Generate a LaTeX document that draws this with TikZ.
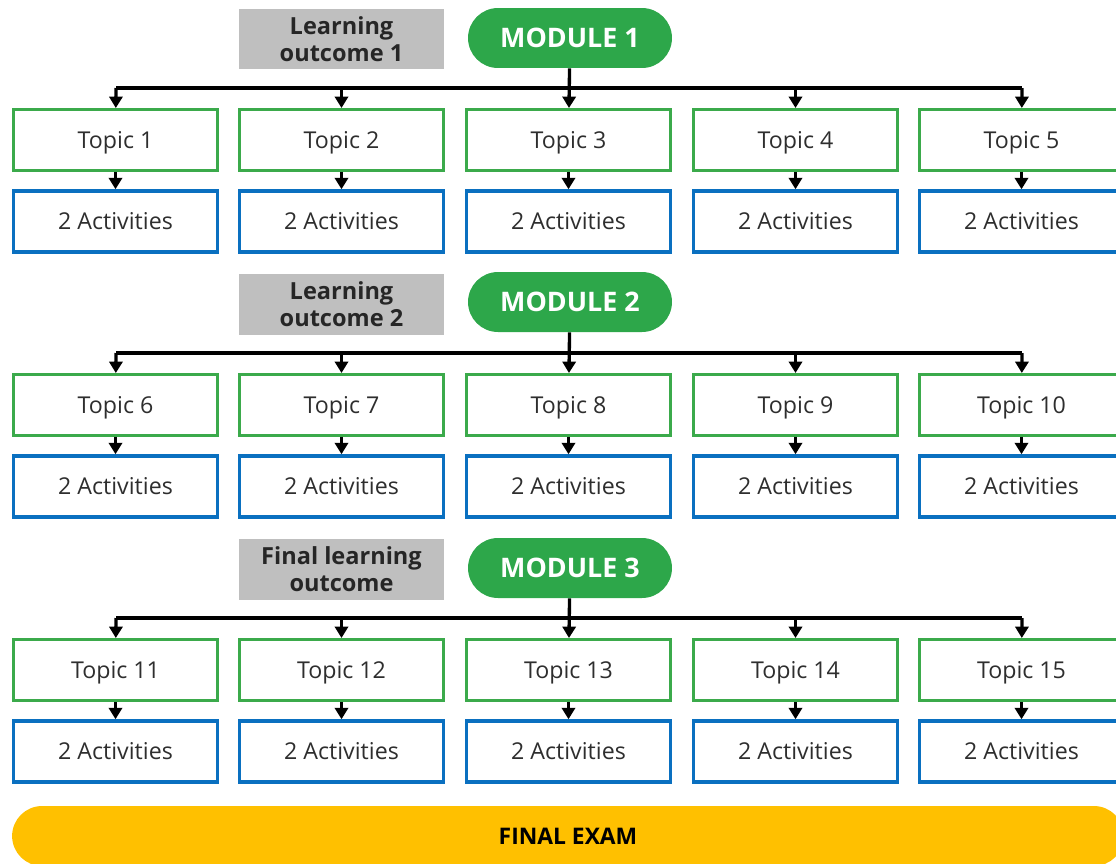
\documentclass[tikz,border=0pt]{standalone}
\usepackage{fontspec}
\setmainfont{Open Sans}
\usetikzlibrary{arrows.meta}

\definecolor{topicgreen}{HTML}{3BAA4B}
\definecolor{modgreen}{HTML}{2DA74A}
\definecolor{actblue}{HTML}{0A70C0}
\definecolor{outgray}{HTML}{BFBFBF}
\definecolor{examyellow}{HTML}{FFC000}

\tikzset{
  box/.style={line width=1.7pt, fill=white, text=black!82,
    minimum width=4.08cm, minimum height=1.22cm, font=\fontsize{13.2}{15}\selectfont},
  topic/.style={box, draw=topicgreen, text depth=0pt},
  activity/.style={box, draw=actblue, line width=2pt},
  module/.style={fill=modgreen, rounded corners=0.6cm, text=white,
    minimum width=4.08cm, minimum height=1.2cm, font=\bfseries\fontsize{15.3}{18}\selectfont},
  outcome/.style={fill=outgray, minimum width=4.1cm, minimum height=1.22cm,
    align=center, font=\bfseries\fontsize{13.4}{15.3}\selectfont, text=black!85},
  exam/.style={fill=examyellow, rounded corners=0.6cm,
    minimum width=22.24cm, minimum height=1.2cm, font=\bfseries\fontsize{13}{15}\selectfont},
  link/.style={line width=1.9pt, -{Triangle[length=6.5pt,width=7.5pt]}},
  bus/.style={line width=1.9pt}
}

\begin{document}
\begin{tikzpicture}[x=0.02cm, y=-0.02cm]
\clip (0,0) rectangle (1116,863);
\useasboundingbox (0,0) rectangle (1116,863);

% module 1
\node[outcome] (o1) at (341.5, 39) {Learning\\outcome 1};
\node[module] (m1) at (570, 38) {MODULE 1};
\node[topic] (t1) at (115.5, 140) {Topic 1};
\node[topic] (t2) at (341.5, 140) {Topic 2};
\node[topic] (t3) at (568.5, 140) {Topic 3};
\node[topic] (t4) at (795.5, 140) {Topic 4};
\node[topic] (t5) at (1021.5, 140) {Topic 5};
\node[activity] (a1) at (115.5, 221.5) {2 Activities};
\node[activity] (a2) at (341.5, 221.5) {2 Activities};
\node[activity] (a3) at (568.5, 221.5) {2 Activities};
\node[activity] (a4) at (795.5, 221.5) {2 Activities};
\node[activity] (a5) at (1021.5, 221.5) {2 Activities};
\coordinate (b1) at (116, 88);
\coordinate (c1) at (1022, 88);

% module 2
\node[outcome] (o2) at (341.5, 304) {Learning\\outcome 2};
\node[module] (m2) at (570, 302) {MODULE 2};
\node[topic] (t6) at (115.5, 405) {Topic 6};
\node[topic] (t7) at (341.5, 405) {Topic 7};
\node[topic] (t8) at (568.5, 405) {Topic 8};
\node[topic] (t9) at (795.5, 405) {Topic 9};
\node[topic] (t10) at (1021.5, 405) {Topic 10};
\node[activity] (a6) at (115.5, 486.5) {2 Activities};
\node[activity] (a7) at (341.5, 486.5) {2 Activities};
\node[activity] (a8) at (568.5, 486.5) {2 Activities};
\node[activity] (a9) at (795.5, 486.5) {2 Activities};
\node[activity] (a10) at (1021.5, 486.5) {2 Activities};
\coordinate (b2) at (116, 353);
\coordinate (c2) at (1022, 353);

% module 3
\node[outcome] (o3) at (341.5, 569) {Final learning\\outcome};
\node[module] (m3) at (570, 568) {MODULE 3};
\node[topic] (t11) at (115.5, 670) {Topic 11};
\node[topic] (t12) at (341.5, 670) {Topic 12};
\node[topic] (t13) at (568.5, 670) {Topic 13};
\node[topic] (t14) at (795.5, 670) {Topic 14};
\node[topic] (t15) at (1021.5, 670) {Topic 15};
\node[activity] (a11) at (115.5, 751.5) {2 Activities};
\node[activity] (a12) at (341.5, 751.5) {2 Activities};
\node[activity] (a13) at (568.5, 751.5) {2 Activities};
\node[activity] (a14) at (795.5, 751.5) {2 Activities};
\node[activity] (a15) at (1021.5, 751.5) {2 Activities};
\coordinate (b3) at (116, 618);
\coordinate (c3) at (1022, 618);

\node[exam] (ex) at (568, 836) {FINAL EXAM};

% buses
\draw[bus] (b1) -- (c1);
\draw[bus] (b2) -- (c2);
\draw[bus] (b3) -- (c3);

% arrows
\draw[link] (m1) -- (t3);
\draw[link] (m2) -- (t8);
\draw[link] (m3) -- (t13);
\draw[link] (b1) -- (t1);
\draw[link] (b1-|t2) -- (t2);
\draw[link] (b1-|t4) -- (t4);
\draw[link] (c1) -- (t5);
\draw[link] (b2) -- (t6);
\draw[link] (b2-|t7) -- (t7);
\draw[link] (b2-|t9) -- (t9);
\draw[link] (c2) -- (t10);
\draw[link] (b3) -- (t11);
\draw[link] (b3-|t12) -- (t12);
\draw[link] (b3-|t14) -- (t14);
\draw[link] (c3) -- (t15);
\draw[link] (t1) -- (a1);
\draw[link] (t2) -- (a2);
\draw[link] (t3) -- (a3);
\draw[link] (t4) -- (a4);
\draw[link] (t5) -- (a5);
\draw[link] (t6) -- (a6);
\draw[link] (t7) -- (a7);
\draw[link] (t8) -- (a8);
\draw[link] (t9) -- (a9);
\draw[link] (t10) -- (a10);
\draw[link] (t11) -- (a11);
\draw[link] (t12) -- (a12);
\draw[link] (t13) -- (a13);
\draw[link] (t14) -- (a14);
\draw[link] (t15) -- (a15);
\end{tikzpicture}
\end{document}
